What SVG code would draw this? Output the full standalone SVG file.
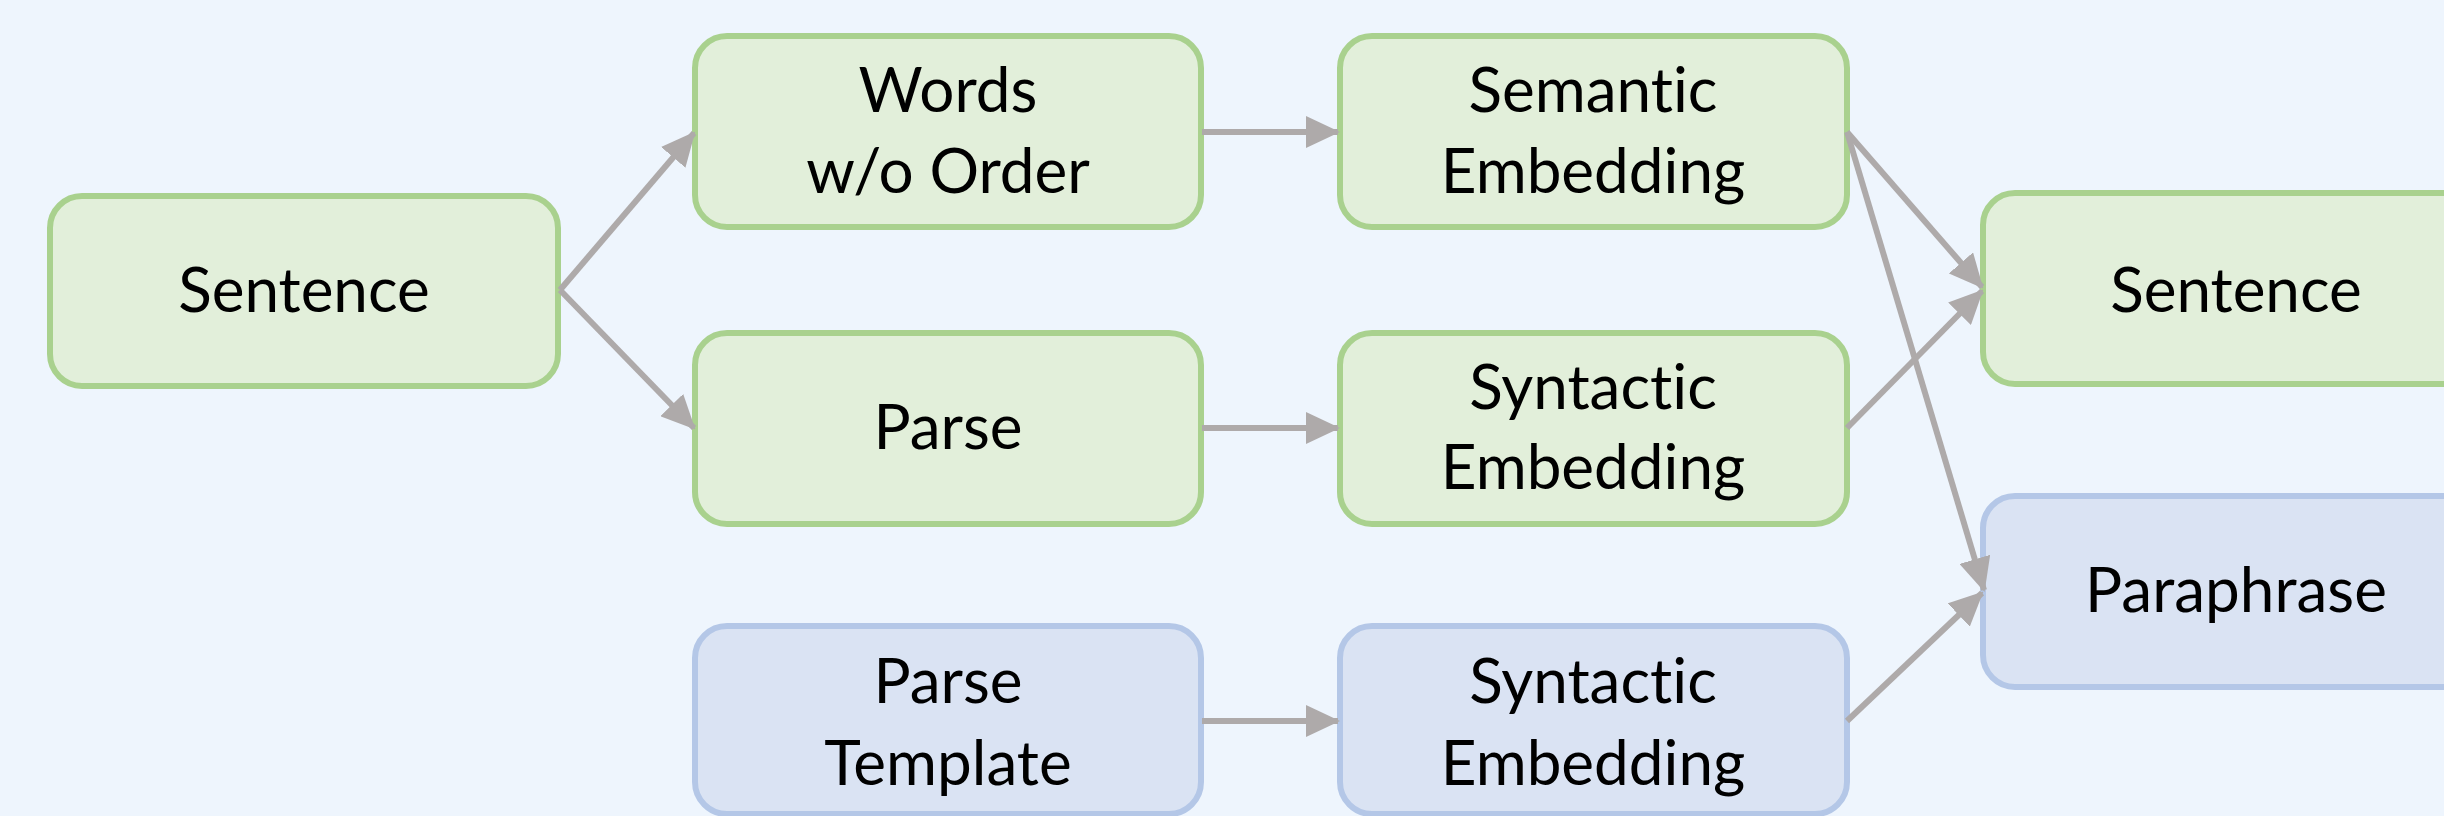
<svg xmlns="http://www.w3.org/2000/svg" width="2444" height="816" viewBox="0 0 2444 816">
<style>
.g rect{fill:#E2EFDA;stroke:#A9D18E;stroke-width:6}
.b rect{fill:#DAE3F3;stroke:#B4C7E7;stroke-width:6}
text{font-family:Lato,"Open Sans",sans-serif;font-size:62px;fill:#000;text-anchor:middle;font-variant-ligatures:none;font-feature-settings:"liga" 0,"clig" 0}
.c line{stroke:#AEAAAA;stroke-width:6;marker-end:url(#ah)}
</style>
<defs>
<marker id="ah" markerUnits="userSpaceOnUse" markerWidth="34" markerHeight="32" refX="32" refY="16" orient="auto" viewBox="0 0 34 32">
<path d="M0,0 L34,16 L0,32 z" fill="#AEAAAA"/>
</marker>
</defs>
<rect width="2444" height="816" fill="#EEF5FD"/>
<g id="n-sentence-in" class="g"><rect x="50" y="196" width="508" height="190" rx="32"/><text x="304" y="312">Sentence</text></g>
<g id="n-words" class="g"><rect x="695" y="36" width="506" height="191" rx="32"/><text x="948" y="112">Words</text><text x="948" y="193">w/o Order</text></g>
<g id="n-parse" class="g"><rect x="695" y="333" width="506" height="191" rx="32"/><text x="948" y="449">Parse</text></g>
<g id="n-template" class="b"><rect x="695" y="626" width="506" height="188" rx="32"/><text x="948" y="703">Parse</text><text x="948" y="785">Template</text></g>
<g id="n-semantic" class="g"><rect x="1340" y="36" width="507" height="191" rx="32"/><text x="1593" y="112">Semantic</text><text x="1593" y="193">Embedding</text></g>
<g id="n-syntactic1" class="g"><rect x="1340" y="333" width="507" height="191" rx="32"/><text x="1593" y="409">Syntactic</text><text x="1593" y="489">Embedding</text></g>
<g id="n-syntactic2" class="b"><rect x="1340" y="626" width="507" height="188" rx="32"/><text x="1593" y="703">Syntactic</text><text x="1593" y="785">Embedding</text></g>
<g id="n-sentence-out" class="g"><rect x="1983" y="193" width="508" height="191" rx="32"/><text x="2236" y="312">Sentence</text></g>
<g id="n-paraphrase" class="b"><rect x="1983" y="496" width="508" height="191" rx="32"/><text x="2236" y="612">Paraphrase</text></g>
<g id="connectors" class="c">
<line x1="560" y1="290" x2="694" y2="133"/>
<line x1="560" y1="290" x2="694" y2="428"/>
<line x1="1202" y1="132" x2="1338" y2="132"/>
<line x1="1202" y1="428" x2="1338" y2="428"/>
<line x1="1202" y1="721" x2="1338" y2="721"/>
<line x1="1847" y1="132" x2="1982" y2="287"/>
<line x1="1847" y1="132" x2="1984" y2="590"/>
<line x1="1847" y1="428" x2="1982" y2="291"/>
<line x1="1847" y1="721" x2="1982" y2="593"/>
</g>
</svg>
